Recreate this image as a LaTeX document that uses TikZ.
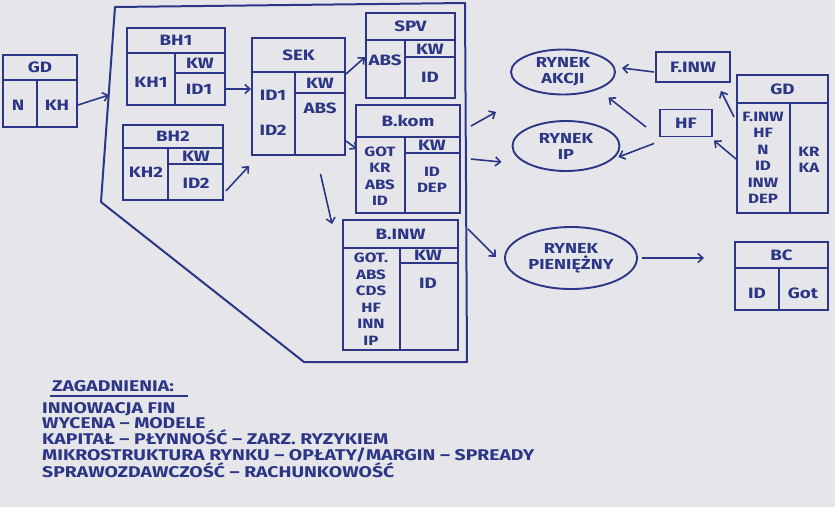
\documentclass[tikz,border=0pt]{standalone}
\usepackage{fontspec}
\setmainfont{Fira Sans}
\newfontfamily\handfont[FakeStretch=1.25]{Fira Sans}
\usetikzlibrary{arrows.meta,positioning,calc,fit,shapes.geometric}
\definecolor{Ink}{HTML}{2B3786}
\definecolor{Paper}{HTML}{E6E6EA}
\tikzset{
  frame/.style={draw=Ink,line width=1.9pt,inner sep=0pt},
  rule/.style={draw=Ink,line width=1.5pt},
  hand/.style={text=Ink,font=\handfont\fontsize{15}{16}\selectfont\bfseries,inner sep=1pt},
  handlist/.style={hand,align=center,font=\handfont\fontsize{13.5}{16.5}\selectfont\bfseries},
  market/.style={ellipse,draw=Ink,line width=1.9pt,align=center,text=Ink,
                 font=\handfont\fontsize{14.5}{16}\selectfont\bfseries,inner sep=0pt},
  fund/.style={draw=Ink,line width=1.9pt,text=Ink,font=\handfont\fontsize{15}{16}\selectfont\bfseries},
  arrow/.style={draw=Ink,line width=1.6pt,-{Straight Barb[length=5pt,width=9pt]}},
  notes/.style={text=Ink,font=\handfont\fontsize{15.5}{15.6}\selectfont\bfseries,align=left,inner sep=0pt},
}
% one balance-sheet box: name, x1, y1, x2, y2, header line, split, title
\newcommand{\ledger}[8]{%
  \coordinate (#1-nw) at (#2,#3);
  \coordinate (#1-se) at (#4,#5);
  \node[frame,fit=(#1-nw)(#1-se)] (#1) {};
  \draw[rule] (#2,#6) -- (#4,#6);
  \draw[rule] (#7,#6) -- (#7,#5);
  \node[hand] (#1-title) at ({(#2+#4)/2},{(#3+#6)/2}) {#8};
}

\begin{document}
\begin{tikzpicture}[x=1pt,y=-1pt]
  \fill[Paper] (0,0) rectangle (835,507);
  \useasboundingbox (0,0) rectangle (835,507);

  % banking sector frame
  \draw[Ink,line width=2pt,line join=round]
    (115,7) -- (465,3) -- (467,362) -- (304,362) -- (101,202) -- cycle;
  \coordinate (frame-in) at (109,95);

  % households
  \ledger{gdl}{3}{55}{77}{127}{80}{37}{GD}
  \node[hand] (gdl-n) at (18,105) {N};
  \node[hand] (gdl-kh) at (57,105) {KH};

  \ledger{bh1}{127}{28}{225}{105}{53}{175}{BH1}
  \draw[rule] (175,73) -- (225,73);
  \node[hand] (bh1-kh) at (151,82) {KH1};
  \node[hand] (bh1-kw) at (200,63) {KW};
  \node[hand] (bh1-id) at (199,89) {ID1};

  \ledger{bh2}{123}{125}{223}{200}{148}{168}{BH2}
  \draw[rule] (168,164) -- (223,164);
  \node[hand] (bh2-kh) at (146,172) {KH2};
  \node[hand] (bh2-kw) at (196,156) {KW};
  \node[hand] (bh2-id) at (196,183) {ID2};

  \ledger{sek}{252}{38}{345}{155}{72}{295}{SEK}
  \draw[rule] (295,93) -- (345,93);
  \node[hand] (sek-id1) at (273,95) {ID1};
  \node[hand] (sek-id2) at (273,130) {ID2};
  \node[hand] (sek-kw) at (320,83) {KW};
  \node[hand] (sek-abs) at (320,108) {ABS};

  \ledger{spv}{366}{13}{455}{98}{40}{405}{SPV}
  \draw[rule] (405,57) -- (455,57);
  \node[hand] (spv-abs) at (385,60) {ABS};
  \node[hand] (spv-kw) at (430,49) {KW};
  \node[hand] (spv-id) at (430,77) {ID};

  \ledger{bkom}{356}{105}{460}{213}{137}{405}{B.kom}
  \draw[rule] (405,153) -- (460,153);
  \node[handlist] (bkom-assets) at (380,176) {GOT\\KR\\ABS\\ID};
  \node[hand] (bkom-kw) at (432,145) {KW};
  \node[handlist] (bkom-liab) at (432,180) {ID\\DEP};

  \ledger{binw}{343}{220}{458}{350}{248}{400}{B.INW}
  \draw[rule] (400,263) -- (458,263);
  \node[handlist] (binw-assets) at (371,299) {GOT.\\ABS\\CDS\\HF\\INN\\IP};
  \node[hand] (binw-kw) at (428,255) {KW};
  \node[hand] (binw-id) at (428,283) {ID};

  % markets
  \node[market,minimum width=104pt,minimum height=45pt] (rak) at (563,72) {RYNEK\\AKCJI};
  \node[market,minimum width=107pt,minimum height=50pt] (rip) at (566,146) {RYNEK\\IP};
  \node[market,minimum width=132pt,minimum height=62pt] (rpn) at (571,258) {RYNEK\\PIENIĘŻNY};

  % funds and the other sectors
  \node[fund,minimum width=74pt,minimum height=30pt] (finw) at (693,67) {F.INW};
  \node[fund,minimum width=52pt,minimum height=27pt] (hf) at (686,123) {HF};

  \ledger{gdr}{737}{75}{828}{213}{103}{790}{GD}
  \node[handlist] (gdr-assets) at (763,158) {F.INW\\HF\\N\\ID\\INW\\DEP};
  \node[handlist] (gdr-liab) at (809,160) {KR\\KA};

  \ledger{bc}{735}{242}{828}{310}{268}{779}{BC}
  \node[hand] (bc-id) at (757,293) {ID};
  \node[hand] (bc-got) at (803,293) {Got};

  % flows
  \draw[arrow] (gdl.east |- gdl-kh) -- (frame-in);
  \draw[arrow] (bh1.east |- bh1-id) -- (sek.west |- bh1-id);
  \draw[arrow] ([shift={(2,-10)}]bh2.south east) -- ([shift={(-2,10)}]sek.south west);
  \draw[arrow] ([shift={(0,37)}]sek.north east) -- ([shift={(0,45)}]spv.north west);
  \draw[arrow] ([shift={(0,-15)}]sek.south east) -- ([shift={(2,45)}]bkom.north west);
  \draw[arrow] ([shift={(22,18)}]sek.south) -- ([shift={(-10,5)}]binw.north west);
  \draw[arrow] ([shift={(10,22)}]bkom.north east) -- ([shift={(-14,40)}]rak.west);
  \draw[arrow] ([shift={(10,55)}]bkom.north east) -- ([shift={(-10,16)}]rip.west);
  \draw[arrow] ([shift={(9,10)}]binw.north east) -- ([shift={(-8,-1)}]rpn.west);
  \draw[arrow] ([xshift=4]rpn.east) -- ([xshift=-30]bc.west |- rpn.east);
  \draw[arrow] ([shift={(-1,5)}]finw.west) -- ([shift={(6,-4)}]rak.east);
  \draw[arrow] ([shift={(-13,4)}]hf.west) -- ([shift={(8,9)}]rak.south east);
  \draw[arrow] ([shift={(-5,6)}]hf.south west) -- ([shift={(-2,11)}]rip.east);
  \draw[arrow] ([shift={(-2,43)}]gdr.north west) -- ([shift={(-10,8)}]finw.south east);
  \draw[arrow] ([shift={(0,85)}]gdr.north west) -- ([shift={(1,3)}]hf.south east);

  % topics
  \node[notes,anchor=west] (topics-head) at (52,386) {ZAGADNIENIA:};
  \draw[rule] ([shift={(-2,4)}]topics-head.south west) -- ([shift={(14,4)}]topics-head.south east);
  \node[notes,anchor=north west] (topics) at (42,402)
    {INNOWACJA FIN\\
     WYCENA – MODELE\\
     KAPITAŁ – PŁYNNOŚĆ – ZARZ. RYZYKIEM\\
     MIKROSTRUKTURA RYNKU – OPŁATY/MARGIN – SPREADY\\
     SPRAWOZDAWCZOŚĆ – RACHUNKOWOŚĆ};
\end{tikzpicture}
\end{document}
